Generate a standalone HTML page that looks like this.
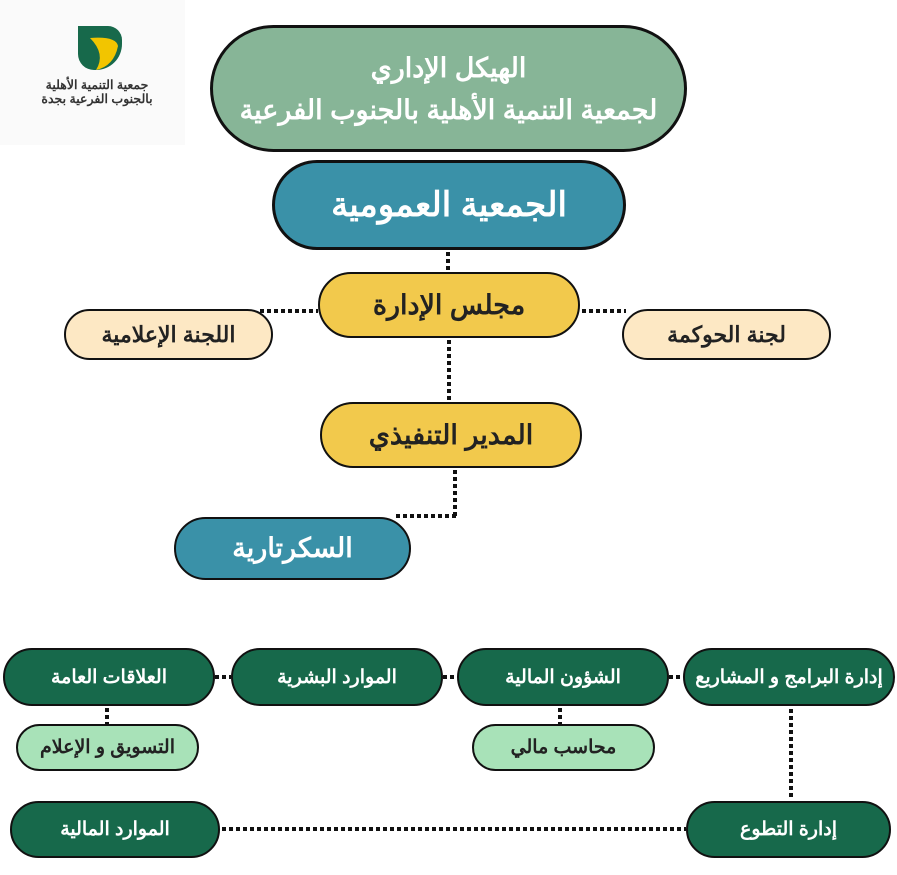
<!DOCTYPE html>
<html><head><meta charset="utf-8"><style>
body{margin:0;width:897px;height:875px;background:#fff;position:relative;overflow:hidden;font-family:"Liberation Sans","Noto Sans CJK SC",sans-serif;}
.n{position:absolute;box-sizing:border-box;border:2px solid #111;border-radius:999px;display:flex;align-items:center;justify-content:center;text-align:center;font-weight:bold;direction:rtl;}
.h{position:absolute;height:4px;background:repeating-linear-gradient(90deg,#111 0 4px,transparent 4px 7px);}
.v{position:absolute;width:4px;background:repeating-linear-gradient(180deg,#111 0 4px,transparent 4px 7px);}
.dg{background:#17694b;color:#fff;font-size:19px;}
.lg{background:#a8e2b8;color:#222;font-size:19px;}
</style></head><body>
<div style="position:absolute;left:0;top:0;width:185px;height:145px;background:#fafafa"></div>
<svg style="position:absolute;left:76px;top:24px" width="48" height="48" viewBox="0 0 48 48">
<path d="M2 2 H32 A14 14 0 0 1 46 16 V20 A26 26 0 0 1 20 46 H18 A16 16 0 0 1 2 30 Z" fill="#17694b"/>
<path d="M14 14 Q40 12 42 22 Q38 42 20 46 Q30 30 14 14Z" fill="#f2c500"/>
</svg>
<div style="position:absolute;left:36px;top:78px;width:122px;font-size:12.5px;font-weight:bold;color:#333;direction:rtl;text-align:center;line-height:14px">جمعية التنمية الأهلية<br>بالجنوب الفرعية بجدة</div>

<div class="n" style="left:210px;top:25px;width:477px;height:127px;background:#87b597;color:#fff;border-width:3px;font-size:27px;line-height:42px">الهيكل الإداري<br>لجمعية التنمية الأهلية بالجنوب الفرعية</div>
<div class="n" style="left:272px;top:160px;width:354px;height:90px;background:#3a91a8;color:#fff;border-width:3px;font-size:34px">الجمعية العمومية</div>
<div class="v" style="left:446px;top:252px;height:20px"></div>
<div class="n" style="left:318px;top:272px;width:262px;height:66px;background:#f2c94c;color:#222;font-size:27px">مجلس الإدارة</div>
<div class="h" style="left:260px;top:309px;width:58px"></div>
<div class="h" style="left:582px;top:309px;width:44px"></div>
<div class="n" style="left:64px;top:309px;width:209px;height:51px;background:#fde8c4;color:#222;font-size:22px">اللجنة الإعلامية</div>
<div class="n" style="left:622px;top:309px;width:209px;height:51px;background:#fde8c4;color:#222;font-size:22px">لجنة الحوكمة</div>
<div class="v" style="left:447px;top:340px;height:62px"></div>
<div class="n" style="left:320px;top:402px;width:262px;height:66px;background:#f2c94c;color:#222;font-size:27px">المدير التنفيذي</div>
<div class="v" style="left:453px;top:470px;height:48px"></div>
<div class="h" style="left:396px;top:514px;width:60px"></div>
<div class="n" style="left:174px;top:517px;width:237px;height:63px;background:#3a91a8;color:#fff;font-size:27px">السكرتارية</div>

<div class="n dg" style="left:3px;top:648px;width:212px;height:58px">العلاقات العامة</div>
<div class="n dg" style="left:231px;top:648px;width:212px;height:58px">الموارد البشرية</div>
<div class="n dg" style="left:457px;top:648px;width:212px;height:58px">الشؤون المالية</div>
<div class="n dg" style="left:683px;top:648px;width:212px;height:58px">إدارة البرامج و المشاريع</div>
<div class="h" style="left:215px;top:675px;width:16px"></div>
<div class="h" style="left:443px;top:675px;width:14px"></div>
<div class="h" style="left:669px;top:675px;width:14px"></div>
<div class="v" style="left:105px;top:708px;height:16px"></div>
<div class="v" style="left:558px;top:708px;height:16px"></div>
<div class="v" style="left:789px;top:709px;height:90px"></div>
<div class="n lg" style="left:16px;top:724px;width:183px;height:47px">التسويق و الإعلام</div>
<div class="n lg" style="left:472px;top:724px;width:183px;height:47px">محاسب مالي</div>
<div class="n dg" style="left:10px;top:801px;width:210px;height:57px">الموارد المالية</div>
<div class="n dg" style="left:686px;top:801px;width:205px;height:57px">إدارة التطوع</div>
<div class="h" style="left:222px;top:827px;width:464px"></div>
</body></html>
